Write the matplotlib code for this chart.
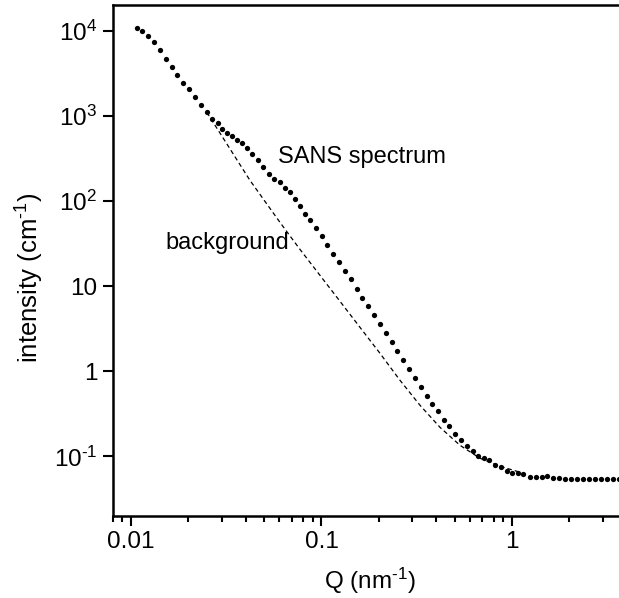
import numpy as np
import matplotlib
matplotlib.use("Agg")
import matplotlib.pyplot as plt
from matplotlib.ticker import FixedLocator, FixedFormatter, LogLocator, NullFormatter, NullLocator

plt.rcParams['font.family'] = ['Liberation Sans', 'DejaVu Sans']
plt.rcParams['mathtext.fontset'] = 'custom'
plt.rcParams['mathtext.rm'] = 'Liberation Sans'
plt.rcParams['mathtext.it'] = 'Liberation Sans:italic'

# SANS spectrum (Q in nm^-1, intensity in cm^-1)
q_sans = [0.01072, 0.01146, 0.01233, 0.01325, 0.01420, 0.01521, 0.01636, 0.01750,
          0.01882, 0.02016, 0.02168, 0.02331, 0.02496, 0.02672, 0.02872, 0.02993,
          0.03179, 0.03377, 0.03588, 0.03811, 0.04049, 0.04332, 0.04625, 0.04948,
          0.05302, 0.05630, 0.06055, 0.06432, 0.06832, 0.07262, 0.07712, 0.08192,
          0.08701, 0.09325, 0.1002, 0.1072, 0.1153, 0.1236, 0.1328, 0.1423,
          0.1531, 0.1637, 0.1761, 0.1886, 0.2028, 0.2173, 0.2335, 0.2506,
          0.2688, 0.2880, 0.3096, 0.3317, 0.3565, 0.3815, 0.4103, 0.4395,
          0.4688, 0.5023, 0.5379, 0.5783, 0.6218, 0.6654, 0.7129, 0.7601,
          0.8144, 0.8723, 0.9380, 1.004, 1.079, 1.146, 1.243, 1.331,
          1.432, 1.532, 1.648, 1.771, 1.897, 2.040, 2.194, 2.359,
          2.537, 2.728, 2.933, 3.153, 3.390, 3.645, 3.92]
i_sans = [10690, 9790, 8550, 7330, 5970, 4680, 3730, 3035,
          2445, 2040, 1658, 1349, 1105, 925, 821, 706,
          633, 578, 524, 478, 418, 359, 305, 250,
          205, 183, 167, 143, 127, 104.4, 86.4, 71.0,
          59.2, 48.6, 38.7, 30.7, 24.1, 19.2, 15.0, 12.0,
          9.35, 7.25, 5.79, 4.54, 3.56, 2.82, 2.21, 1.72,
          1.35, 1.055, 0.834, 0.654, 0.513, 0.410, 0.339, 0.266,
          0.226, 0.182, 0.158, 0.1317, 0.116, 0.1014, 0.0953, 0.0902,
          0.0803, 0.0753, 0.0676, 0.0647, 0.0640, 0.0618, 0.0575, 0.0575,
          0.0581, 0.0586, 0.0565, 0.0555, 0.0550, 0.0550, 0.0548, 0.0550,
          0.0548, 0.0550, 0.0550, 0.0549, 0.0550, 0.0550, 0.0550]

# background curve
q_bg = [0.0250, 0.04214, 0.06055, 0.07712, 0.0982, 0.1251, 0.1593, 0.2028,
        0.2583, 0.3290, 0.4188, 0.5333, 0.6792, 0.8650, 1.102]
i_bg = [1100, 174.5, 56.1, 27.0, 13.39, 6.63, 3.28, 1.627,
        0.784, 0.399, 0.220, 0.1353, 0.0953, 0.0767, 0.0653]

fig = plt.figure(figsize=(6.19, 5.98), dpi=100)
ax = fig.add_axes([112.5/619, 82/598, 514.2/619, 511/598])

ax.plot(q_bg, i_bg, color='black', lw=0.9, dashes=(3.5, 2.5), zorder=2)
ax.plot(q_sans, i_sans, 'o', color='black', ms=3.8, mew=0, zorder=3)

ax.set_xscale('log')
ax.set_yscale('log')
ax.set_xlim(0.008, 4)
ax.set_ylim(0.02, 2e4)

# ticks
ax.xaxis.set_major_locator(FixedLocator([0.01, 0.1, 1]))
ax.xaxis.set_major_formatter(FixedFormatter(['0.01', '0.1', '1']))
ax.xaxis.set_minor_locator(LogLocator(base=10, subs=np.arange(2, 10)))
ax.xaxis.set_minor_formatter(NullFormatter())
ax.yaxis.set_major_locator(FixedLocator([0.1, 1, 10, 100, 1000, 10000]))
ax.yaxis.set_major_formatter(FixedFormatter([r'$\mathregular{10^{\text{-}1}}$', '1', '10',
                                             r'$\mathregular{10^2}$', r'$\mathregular{10^3}$',
                                             r'$\mathregular{10^4}$']))
ax.yaxis.set_minor_locator(NullLocator())
ax.tick_params(which='major', direction='out', length=7, width=1.5, labelsize=17.5, pad=4)
ax.tick_params(which='minor', direction='out', length=4, width=1.5)
ax.tick_params(top=False, right=False)
for s in ax.spines.values():
    s.set_linewidth(1.8)

ax.set_xlabel(r'Q (nm$\mathregular{^{\text{-}1}}$)', fontsize=17.5, labelpad=9)
ax.set_ylabel(r'intensity (cm$\mathregular{^{\text{-}1}}$)', fontsize=18.5)
ax.yaxis.set_label_coords(-0.13, 0.466)

ax.text(0.0591, 325, 'SANS spectrum', fontsize=17, ha='left', va='center')
ax.text(0.0151, 31.8, 'background', fontsize=17, ha='left', va='center')

fig.savefig('out.png', dpi=100)
